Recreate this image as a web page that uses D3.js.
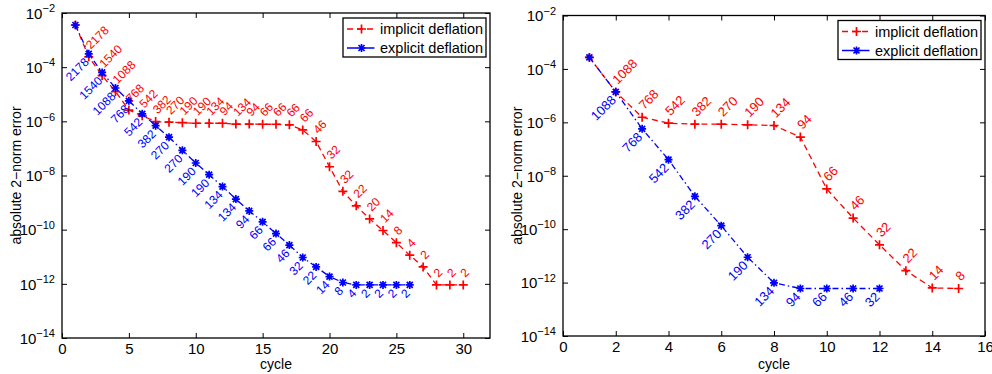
<!DOCTYPE html>
<html>
<head>
<meta charset="utf-8">
<script src="https://cdn.jsdelivr.net/npm/d3@7"></script>
<style>
body { margin: 0; background: #fff; }
text { font-family: "Liberation Sans", Arial, Helvetica, sans-serif; }
</style>
</head>
<body>
<div id="chart"></div>
<script>
// left panel
const leftImplicitCycles = [1,2,3,4,5,6,7,8,9,10,11,12,13,14,15,16,17,18,19,20,21,22,23,24,25,26,27,28,29,30];
const leftImplicitError = [3.6e-3, 2.4e-4, 4.9e-5, 1.26e-5, 2.6e-6, 1.6e-6, 9.8e-7, 9.3e-7, 8.9e-7, 8.5e-7,
  8.5e-7, 8.5e-7, 7.9e-7, 7.9e-7, 7.8e-7, 7.8e-7, 7.4e-7, 4.8e-7, 1.8e-7, 2.1e-8,
  2.6e-9, 7.6e-10, 2.5e-10, 9.3e-11, 3.3e-11, 1.14e-11, 4.2e-12, 9.1e-13, 9.1e-13, 9.1e-13];
const leftImplicitLabels = ["", "2178", "1540", "1088", "768", "542", "382", "270", "190", "190",
  "134", "94", "134", "94", "66", "66", "66", "66", "46", "32",
  "32", "22", "20", "14", "8", "4", "2", "2", "2", "2"];

const leftExplicitCycles = [1,2,3,4,5,6,7,8,9,10,11,12,13,14,15,16,17,18,19,20,21,22,23,24,25,26];
const leftExplicitError = [3.6e-3, 3.1e-4, 6.4e-5, 1.7e-5, 5.7e-6, 1.9e-6, 6.9e-7, 2.6e-7, 8.5e-8, 2.9e-8,
  1.07e-8, 3.9e-9, 1.35e-9, 4.9e-10, 1.94e-10, 7.2e-11, 2.7e-11, 9.4e-12, 4.2e-12, 1.86e-12,
  1.12e-12, 9.1e-13, 9.1e-13, 9.1e-13, 9.1e-13, 9.1e-13];
const leftExplicitLabels = ["", "2178", "1540", "1088", "768", "542", "382", "270", "270", "190",
  "190", "134", "134", "94", "66", "66", "46", "32", "22", "14",
  "8", "4", "2", "2", "2", "2"];

// right panel
const rightImplicitCycles = [1,2,3,4,5,6,7,8,9,10,11,12,13,14,15];
const rightImplicitError = [2.7e-4, 1.38e-5, 1.55e-6, 9.3e-7, 8.5e-7, 8.5e-7, 8.1e-7, 7.6e-7, 2.8e-7, 3.2e-9,
  2.6e-10, 2.6e-11, 2.8e-12, 6.3e-13, 6.0e-13];
const rightImplicitLabels = ["", "1088", "768", "542", "382", "270", "190", "134", "94", "66",
  "46", "32", "22", "14", "8"];

const rightExplicitCycles = [1,2,3,4,5,6,7,8,9,10,11,12];
const rightExplicitError = [2.7e-4, 1.38e-5, 5.7e-7, 4.0e-8, 1.7e-9, 1.35e-10, 8.9e-12, 9.8e-13, 6.0e-13, 6.0e-13,
  6.0e-13, 6.0e-13];
const rightExplicitLabels = ["", "1088", "768", "542", "382", "270", "190", "134", "94", "66",
  "46", "32"];

const yTickValues = [1e-14, 1e-12, 1e-10, 1e-8, 1e-6, 1e-4, 1e-2];
const legendNames = ["implicit deflation", "explicit deflation"];

const RED = "#ff0000", BLUE = "#0000ff";

const svg = d3.select("#chart").append("svg")
  .attr("width", 992)
  .attr("height", 374);

const panels = [
  { left: 62, right: 490, top: 13, bottom: 338, xMax: 32, xTicks: [0,5,10,15,20,25,30], labelSize: 12,
    imp: { c: leftImplicitCycles, e: leftImplicitError, l: leftImplicitLabels },
    exp: { c: leftExplicitCycles, e: leftExplicitError, l: leftExplicitLabels } },
  { left: 563, right: 985, top: 15.5, bottom: 336, xMax: 16, xTicks: [0,2,4,6,8,10,12,14,16], labelSize: 13,
    imp: { c: rightImplicitCycles, e: rightImplicitError, l: rightImplicitLabels },
    exp: { c: rightExplicitCycles, e: rightExplicitError, l: rightExplicitLabels } }
];

const plusPath = "M-4.5,0H4.5M0,-4.5V4.5";
const starPath = "M-4,0H4M0,-4V4M-3,-3L3,3M-3,3L3,-3";

const drawPanel = p => {
  const x = d3.scaleLinear().domain([0, p.xMax]).range([p.left, p.right]);
  const y = d3.scaleLog().domain([1e-14, 1e-2]).range([p.bottom, p.top]);
  const g = svg.append("g");

  // axes (ticks pointing inward, matlab style)
  const xb = g.append("g").attr("transform", `translate(0,${p.bottom})`)
    .call(d3.axisBottom(x).tickValues(p.xTicks).tickSizeInner(-5).tickSizeOuter(0).tickPadding(5));
  xb.selectAll("text").attr("font-size", 15).attr("fill", "#000").attr("font-family", null);

  g.append("g").attr("transform", `translate(0,${p.top})`)
    .call(d3.axisTop(x).tickValues(p.xTicks).tickSizeInner(-5).tickSizeOuter(0).tickFormat(""));

  const yl = g.append("g").attr("transform", `translate(${p.left},0)`)
    .call(d3.axisLeft(y).tickValues(yTickValues).tickSizeInner(-5).tickSizeOuter(0)
      .tickPadding(7).tickFormat(() => "10"));
  yl.selectAll("text")
    .attr("font-size", 15).attr("fill", "#000").attr("font-family", null).attr("dy", "0.35em")
    .append("tspan")
    .attr("font-size", 11)
    .attr("dy", -6.5)
    .text(d => "\u2212" + Math.abs(Math.round(Math.log10(d))));

  g.append("g").attr("transform", `translate(${p.right},0)`)
    .call(d3.axisRight(y).tickValues(yTickValues).tickSizeInner(-5).tickSizeOuter(0).tickFormat(""));

  g.selectAll(".tick line").attr("stroke", "#000").attr("stroke-width", 1);
  g.selectAll(".domain").remove();

  g.append("rect")
    .attr("x", p.left).attr("y", p.top)
    .attr("width", p.right - p.left).attr("height", p.bottom - p.top)
    .attr("fill", "none").attr("stroke", "#000").attr("stroke-width", 1.3);

  // axis titles
  g.append("text")
    .attr("x", (p.left + p.right) / 2).attr("y", 369)
    .attr("text-anchor", "middle").attr("font-size", 14)
    .text("cycle");
  g.append("text")
    .attr("transform", `translate(${p.left - 41},${(p.top + p.bottom) / 2}) rotate(-90)`)
    .attr("text-anchor", "middle").attr("font-size", 14)
    .text("absolute 2\u2212norm error");

  const line = d3.line().x(d => x(d[0])).y(d => y(d[1]));

  const series = [
    { s: p.imp, color: RED, dash: "6,4", marker: plusPath },
    { s: p.exp, color: BLUE, dash: "6,3,1.5,3", marker: starPath }
  ];

  series.forEach(sr => {
    const pts = sr.s.c.map((c, i) => [c, sr.s.e[i], sr.s.l[i]]);
    g.append("path")
      .datum(pts)
      .attr("d", line)
      .attr("fill", "none")
      .attr("stroke", sr.color)
      .attr("stroke-width", 1.3)
      .attr("stroke-dasharray", sr.dash);
    g.selectAll(null)
      .data(pts)
      .enter()
      .append("path")
      .attr("transform", d => `translate(${x(d[0])},${y(d[1])})`)
      .attr("d", sr.marker)
      .attr("stroke", sr.color)
      .attr("stroke-width", 1.7)
      .attr("fill", "none");
  });

  // iteration labels, red above-right, blue below-left
  const impPts = p.imp.c.map((c, i) => [c, p.imp.e[i], p.imp.l[i]]).filter(d => d[2]);
  g.selectAll(null)
    .data(impPts)
    .enter()
    .append("text")
    .attr("transform", d => `translate(${x(d[0]) + 2},${y(d[1]) - 7}) rotate(-45)`)
    .attr("font-size", p.labelSize)
    .attr("fill", RED)
    .text(d => d[2]);

  const expPts = p.exp.c.map((c, i) => [c, p.exp.e[i], p.exp.l[i]]).filter(d => d[2]);
  g.selectAll(null)
    .data(expPts)
    .enter()
    .append("text")
    .attr("transform", d => `translate(${x(d[0]) + 1},${y(d[1]) + 9}) rotate(-45)`)
    .attr("text-anchor", "end")
    .attr("font-size", p.labelSize)
    .attr("fill", BLUE)
    .text(d => d[2]);

  // legend
  const lw = 143, lh = 39;
  const lg = g.append("g").attr("transform", `translate(${p.right - 4 - lw},${p.top + 5})`);
  lg.append("rect").attr("width", lw).attr("height", lh)
    .attr("fill", "#fff").attr("stroke", "#000").attr("stroke-width", 1.3);
  series.forEach((sr, i) => {
    const cy = 11 + i * 19;
    lg.append("line")
      .attr("x1", 4).attr("x2", 33).attr("y1", cy).attr("y2", cy)
      .attr("stroke", sr.color).attr("stroke-width", 1.3)
      .attr("stroke-dasharray", i === 0 ? "6,4" : "11,2,1.5,2");
    lg.append("path")
      .attr("transform", `translate(18.5,${cy})`)
      .attr("d", sr.marker)
      .attr("stroke", sr.color).attr("stroke-width", 1.7).attr("fill", "none");
    lg.append("text")
      .attr("x", 37).attr("y", cy + 5)
      .attr("font-size", 14.5)
      .text(legendNames[i]);
  });
};

panels.forEach(drawPanel);
</script>
</body>
</html>
